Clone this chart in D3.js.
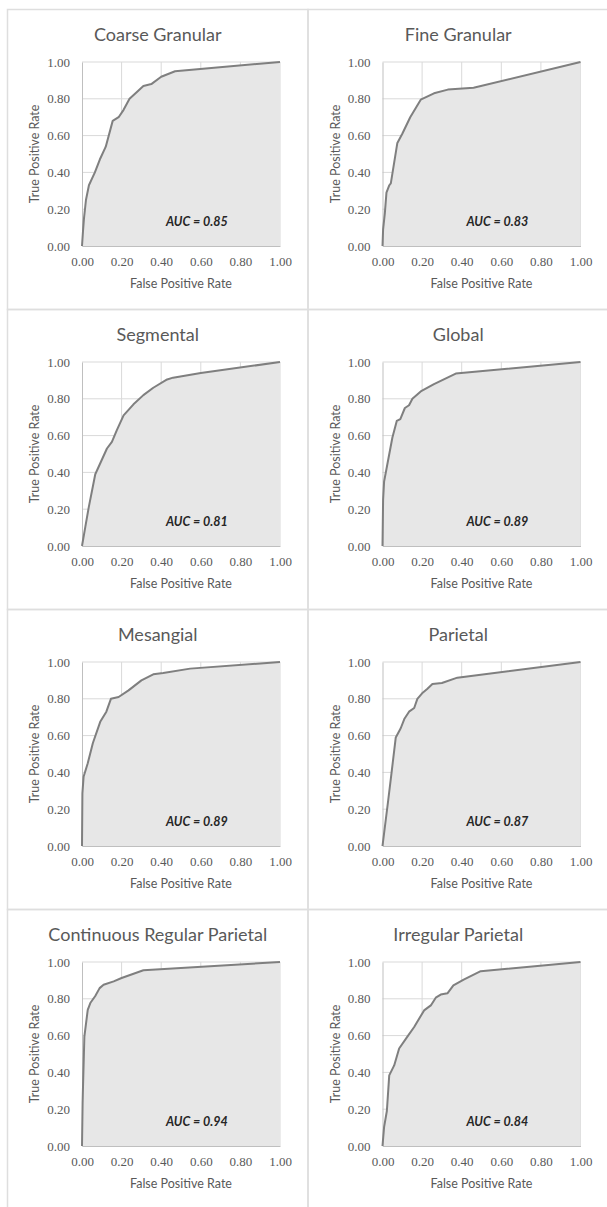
<!DOCTYPE html>
<html>
<head>
<meta charset="utf-8">
<script src="https://cdn.jsdelivr.net/npm/d3@7"></script>
<style>
  body { margin: 0; background: #fff; }
  .tick text { font-family: "Liberation Serif", serif; font-size: 13px; fill: #595959; }
</style>
</head>
<body>
<div id="chart"></div>
<script>
// chart titles, in reading order (left to right, top to bottom)
var titles = ["Coarse Granular", "Fine Granular", "Segmental", "Global",
              "Mesangial", "Parietal", "Continuous Regular Parietal", "Irregular Parietal"];

var aucLabels = ["AUC = 0.85", "AUC = 0.83", "AUC = 0.81", "AUC = 0.89",
                 "AUC = 0.89", "AUC = 0.87", "AUC = 0.94", "AUC = 0.84"];

var tickValues = [0, 0.2, 0.4, 0.6, 0.8, 1.0];
var tickLabels = ["0.00", "0.20", "0.40", "0.60", "0.80", "1.00"];

// ROC points
var coarseFpr = [0, 0.005, 0.01, 0.02, 0.035, 0.065, 0.09, 0.12, 0.155, 0.185, 0.21, 0.24, 0.28, 0.31, 0.35, 0.40, 0.47, 1.0];
var coarseTpr = [0, 0.08, 0.15, 0.25, 0.33, 0.40, 0.47, 0.54, 0.68, 0.70, 0.74, 0.80, 0.84, 0.87, 0.88, 0.92, 0.95, 1.0];

var fineFpr = [0, 0.003, 0.012, 0.02, 0.034, 0.042, 0.075, 0.10, 0.14, 0.193, 0.26, 0.33, 0.46, 1.0];
var fineTpr = [0, 0.09, 0.18, 0.29, 0.33, 0.34, 0.56, 0.61, 0.70, 0.795, 0.83, 0.85, 0.86, 1.0];

var segFpr = [0, 0.017, 0.034, 0.067, 0.126, 0.151, 0.176, 0.21, 0.26, 0.31, 0.36, 0.43, 0.46, 0.6, 1.0];
var segTpr = [0, 0.105, 0.21, 0.39, 0.53, 0.566, 0.63, 0.71, 0.77, 0.82, 0.86, 0.905, 0.915, 0.94, 1.0];

var globalFpr = [0, 0.003, 0.008, 0.029, 0.05, 0.072, 0.09, 0.113, 0.134, 0.151, 0.193, 0.26, 0.37, 1.0];
var globalTpr = [0, 0.25, 0.35, 0.47, 0.59, 0.68, 0.69, 0.75, 0.765, 0.80, 0.84, 0.88, 0.937, 1.0];

var mesFpr = [0, 0.002, 0.008, 0.029, 0.055, 0.092, 0.123, 0.146, 0.185, 0.235, 0.30, 0.36, 0.41, 0.546, 1.0];
var mesTpr = [0, 0.286, 0.376, 0.45, 0.56, 0.675, 0.73, 0.80, 0.81, 0.846, 0.90, 0.933, 0.94, 0.964, 1.0];

var parFpr = [0, 0.029, 0.047, 0.067, 0.092, 0.11, 0.134, 0.16, 0.176, 0.20, 0.227, 0.252, 0.30, 0.378, 1.0];
var parTpr = [0, 0.25, 0.41, 0.59, 0.64, 0.69, 0.73, 0.75, 0.80, 0.83, 0.855, 0.88, 0.886, 0.915, 1.0];

var crpFpr = [0, 0.003, 0.005, 0.012, 0.029, 0.042, 0.067, 0.089, 0.109, 0.16, 0.20, 0.31, 1.0];
var crpTpr = [0, 0.23, 0.32, 0.595, 0.74, 0.777, 0.815, 0.858, 0.876, 0.895, 0.913, 0.955, 1.0];

var irrFpr = [0, 0.008, 0.022, 0.034, 0.059, 0.084, 0.123, 0.16, 0.21, 0.244, 0.269, 0.294, 0.328, 0.358, 0.41, 0.496, 1.0];
var irrTpr = [0, 0.103, 0.19, 0.384, 0.438, 0.53, 0.59, 0.647, 0.737, 0.764, 0.806, 0.823, 0.83, 0.873, 0.904, 0.95, 1.0];

var fprSeries = [coarseFpr, fineFpr, segFpr, globalFpr, mesFpr, parFpr, crpFpr, irrFpr];
var tprSeries = [coarseTpr, fineTpr, segTpr, globalTpr, mesTpr, parTpr, crpTpr, irrTpr];

var W = 607, H = 1207;
var panelW = 300.5, panelH = 300;
var plotLeft = 74.5, plotTop = 52.5, plotW = 198, plotH = 184;

var svg = d3.select("#chart")
        .append("svg")
        .attr("width", W)
        .attr("height", H);

titles.forEach(function (title, i) {
    var col = i % 2, row = Math.floor(i / 2);
    var px = 7.5 + col * panelW, py = 9.5 + row * panelH;

    var panel = svg.append("g").attr("transform", "translate(" + px + "," + py + ")");

    // panel frame
    panel.append("rect")
            .attr("x", 0).attr("y", 0)
            .attr("width", panelW).attr("height", panelH)
            .attr("fill", "none")
            .attr("stroke", "#dedede")
            .attr("stroke-width", 1.5);

    var x = d3.scaleLinear().domain([0, 1]).range([0, plotW]);
    var y = d3.scaleLinear().domain([0, 1]).range([plotH, 0]);

    var g = panel.append("g").attr("transform", "translate(" + plotLeft + "," + plotTop + ")");

    // gridlines
    g.append("g").selectAll("line.h")
            .data(tickValues.slice(1))
            .enter().append("line")
            .attr("x1", 0).attr("x2", plotW)
            .attr("y1", function (d) { return y(d); })
            .attr("y2", function (d) { return y(d); })
            .attr("stroke", "#d9d9d9").attr("stroke-width", 1);
    g.append("g").selectAll("line.v")
            .data(tickValues.slice(1))
            .enter().append("line")
            .attr("y1", 0).attr("y2", plotH)
            .attr("x1", function (d) { return x(d); })
            .attr("x2", function (d) { return x(d); })
            .attr("stroke", "#d9d9d9").attr("stroke-width", 1);

    var pts = fprSeries[i].map(function (f, k) { return [f, tprSeries[i][k]]; });

    var area = d3.area()
            .x(function (d) { return x(d[0]); })
            .y0(y(0))
            .y1(function (d) { return y(d[1]); });
    var line = d3.line()
            .x(function (d) { return x(d[0]); })
            .y(function (d) { return y(d[1]); });

    g.append("path")
            .attr("d", area(pts))
            .attr("fill", "#e7e7e7");

    // axes
    var xAxis = d3.axisBottom(x)
            .tickValues(tickValues)
            .tickFormat(function (d, k) { return tickLabels[k]; })
            .tickSize(0).tickPadding(11);
    var yAxis = d3.axisLeft(y)
            .tickValues(tickValues)
            .tickFormat(function (d, k) { return tickLabels[k]; })
            .tickSize(0).tickPadding(12);

    var gx = g.append("g").attr("transform", "translate(0," + plotH + ")").call(xAxis);
    gx.select(".domain").attr("stroke", "#bfbfbf").attr("stroke-width", 1);
    var gy = g.append("g").call(yAxis);
    gy.select(".domain").attr("stroke", "#bfbfbf").attr("stroke-width", 1);

    g.append("path")
            .attr("d", line(pts))
            .attr("fill", "none")
            .attr("stroke", "#7f7f7f")
            .attr("stroke-width", 2)
            .attr("stroke-linejoin", "round");

    // AUC label
    g.append("text")
            .attr("x", x(0.58))
            .attr("y", y(0.13))
            .attr("dy", "0.35em")
            .attr("text-anchor", "middle")
            .style("font-family", "Lato, sans-serif")
            .style("font-size", "12.5px")
            .style("font-weight", "bold")
            .style("font-style", "italic")
            .style("fill", "#262626")
            .text(aucLabels[i]);

    // titles, centred on the panel
    panel.append("text")
            .attr("x", panelW / 2)
            .attr("y", 25.5)
            .attr("dy", "0.35em")
            .attr("text-anchor", "middle")
            .style("font-family", "Lato, sans-serif")
            .style("font-size", "18px")
            .style("fill", "#595959")
            .text(title);

    panel.append("text")
            .attr("x", plotLeft + plotW / 2)
            .attr("y", plotTop + plotH + 37.5)
            .attr("dy", "0.35em")
            .attr("text-anchor", "middle")
            .style("font-family", "Lato, sans-serif")
            .style("font-size", "12.5px")
            .style("fill", "#595959")
            .text("False Positive Rate");

    panel.append("text")
            .attr("transform", "translate(27.5," + (plotTop + plotH / 2) + ") rotate(-90)")
            .attr("dy", "0.35em")
            .attr("text-anchor", "middle")
            .style("font-family", "Lato, sans-serif")
            .style("font-size", "12.5px")
            .style("fill", "#595959")
            .text("True Positive Rate");
});
</script>
</body>
</html>
